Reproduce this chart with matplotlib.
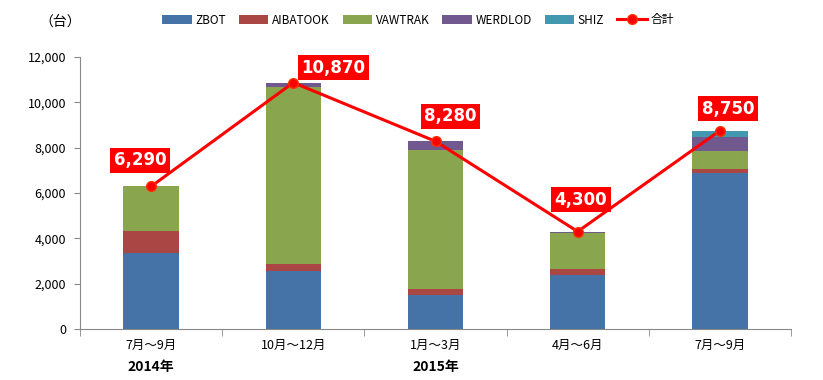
import numpy as np
import matplotlib.pyplot as plt
from matplotlib.ticker import FuncFormatter, FixedLocator

plt.rcParams['font.family'] = ['Noto Sans CJK JP', 'DejaVu Sans']

# ── data ────────────────────────────────────────────────────────────
periods = ['7月～9月', '10月～12月', '1月～3月', '4月～6月', '7月～9月']
years = {0: '2014年', 2: '2015年'}
series_names = ['ZBOT', 'AIBATOOK', 'VAWTRAK', 'WERDLOD', 'SHIZ']
zbot     = [3340, 2570, 1500, 2400, 6890]
aibatook = [1000,  300,  270,  250,  150]
vawtrak  = [1950, 7790, 6120, 1600,  830]
werdlod  = [   0,  210,  390,   50,  580]
shiz     = [   0,    0,    0,    0,  300]
totals   = [6290, 10870, 8280, 4300, 8750]
total_name = '合計'

colors = ['#4572A7', '#AA4643', '#89A54E', '#71588F', '#4198AF']

# ── figure ──────────────────────────────────────────────────────────
fig = plt.figure(figsize=(8.23, 3.8), dpi=100)
ax = fig.add_axes([80/823, 51/380, 711/823, 272/380])

x = np.arange(len(periods))
bottom = np.zeros(len(periods))
handles = []
for name, vals, c in zip(series_names, [zbot, aibatook, vawtrak, werdlod, shiz], colors):
    b = ax.bar(x, vals, width=0.39, bottom=bottom, color=c, label=name, zorder=2)
    handles.append(b)
    bottom += np.array(vals)

ln, = ax.plot(x, totals, color='#FF0000', lw=2.2, marker='o', ms=7,
              markerfacecolor='#FF0000', markeredgecolor='#FF3300', label=total_name, zorder=3)
handles.append(ln)

# label offsets in pixels (from the picture)
offsets = [(-11, 26), (40, 15), (15, 25), (3, 32), (8, 22)]
for xi, v, (dx, dy) in zip(x, totals, offsets):
    ax.annotate(f'{v:,}', (xi, v), xytext=(dx * 0.72, dy * 0.72), textcoords='offset points',
                ha='center', va='center', color='white', fontsize=12, fontweight='bold',
                family='DejaVu Sans',
                bbox=dict(boxstyle='square,pad=0.22', fc='#FF0000', ec='none'), zorder=4)

ax.set_xlim(-0.5, len(periods) - 0.5)
ax.set_ylim(0, 12000)
ax.set_yticks(np.arange(0, 12001, 2000))
ax.yaxis.set_major_formatter(FuncFormatter(lambda v, p: f'{int(v):,}'))
ax.set_xticks(x)
ax.set_xticklabels(periods)
ax.xaxis.set_minor_locator(FixedLocator(np.arange(-0.5, len(periods), 1.0)))
ax.tick_params(axis='x', which='major', length=0, pad=7, labelsize=9)
ax.tick_params(axis='x', which='minor', length=5, color='#888888', direction='out')
ax.tick_params(axis='y', length=4, color='#888888', labelsize=9, pad=6)

for s in ['top', 'right']:
    ax.spines[s].set_visible(False)
for s in ['left', 'bottom']:
    ax.spines[s].set_color('#888888')

for i, y in years.items():
    ax.text(i, -0.14, y, transform=ax.get_xaxis_transform(), ha='center', va='center',
            fontsize=10, fontweight='bold')

fig.text(60/823, 1 - 22/380, '（台）', ha='center', va='center', fontsize=10)

ax.legend(handles=handles, labels=series_names + [total_name],
          loc='center', bbox_to_anchor=(418/823, 1 - 20/380), bbox_transform=fig.transFigure,
          ncol=6, frameon=False, fontsize=8.5, handlelength=2.5, handleheight=0.8,
          columnspacing=1.1, handletextpad=0.3)

fig.savefig('out.png', dpi=100)
